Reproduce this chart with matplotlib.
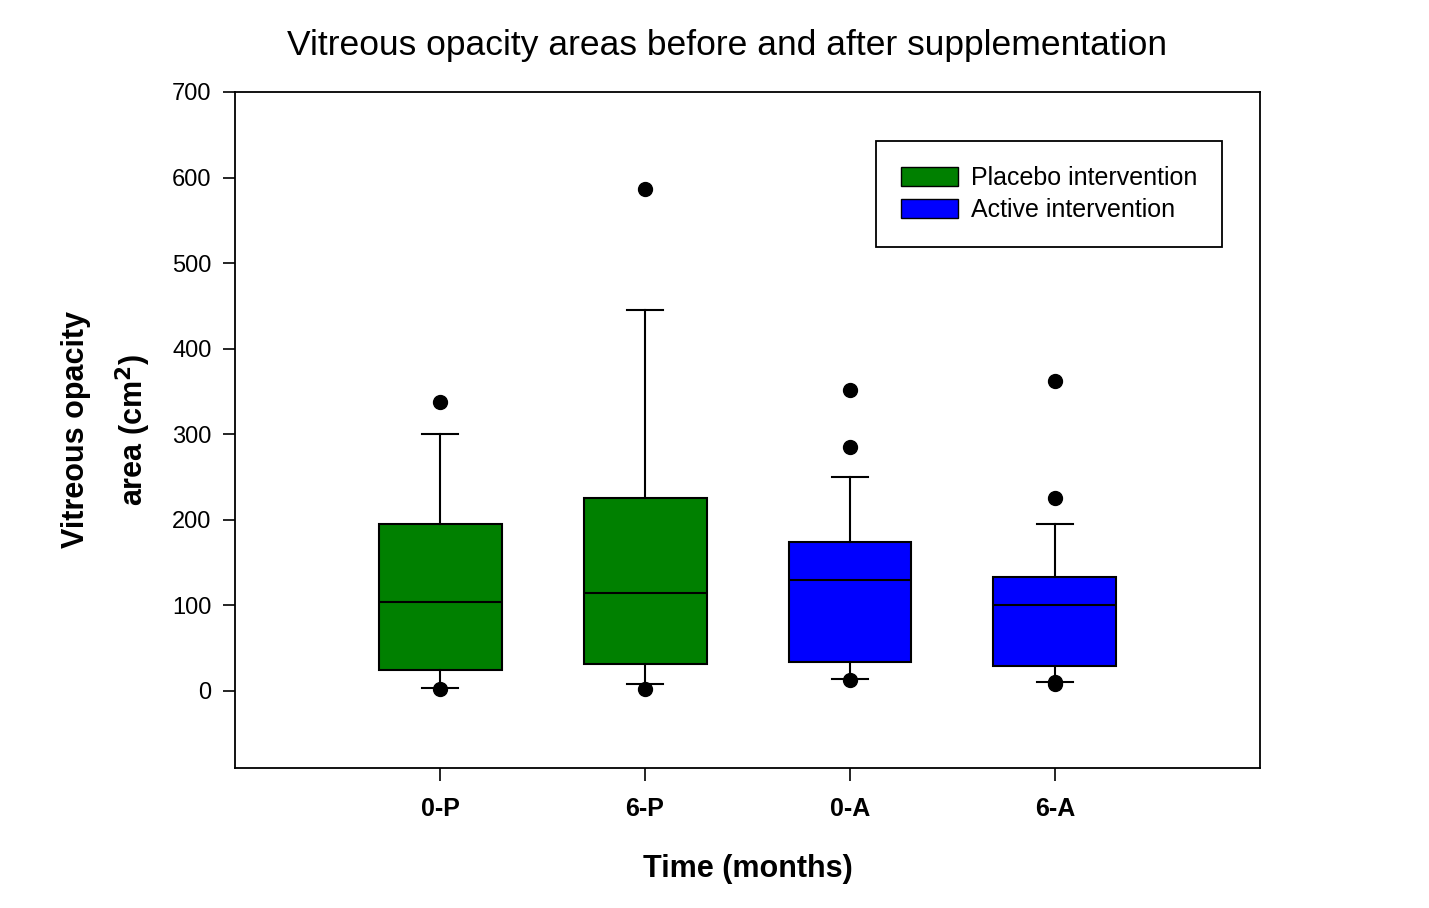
import numpy as np
import matplotlib.pyplot as plt
from matplotlib.patches import Patch

plt.rcParams['font.family'] = ['Liberation Sans', 'DejaVu Sans']

# box plot values
labels = ['0-P', '6-P', '0-A', '6-A']
q1 = [25, 32, 34, 29]
med = [104, 115, 130, 100]
q3 = [195, 226, 174, 133]
whis_lo = [3, 8, 14, 10]
whis_hi = [300, 445, 250, 195]
fliers = [[338, 2], [587, 2], [352, 285, 13], [362, 225, 11, 8]]
colors = ['#008000', '#008000', '#0000ff', '#0000ff']

fig = plt.figure(figsize=(14.29, 9.08), dpi=100)
ax = fig.add_axes([0.1645, 0.1542, 0.7172, 0.7445])

stats = []
for i in range(len(labels)):
    stats.append({'label': labels[i], 'q1': q1[i], 'med': med[i], 'q3': q3[i],
                  'whislo': whis_lo[i], 'whishi': whis_hi[i],
                  'fliers': np.array(fliers[i])})

pos = np.arange(1, len(labels) + 1)
bp = ax.bxp(stats, positions=pos, widths=0.6, patch_artist=True,
            boxprops=dict(edgecolor='black', linewidth=1.5),
            medianprops=dict(color='black', linewidth=1.5),
            whiskerprops=dict(color='black', linewidth=1.5),
            capprops=dict(color='black', linewidth=1.5),
            capwidths=0.18,
            flierprops=dict(marker='o', markerfacecolor='black',
                            markeredgecolor='black', markersize=10))
for b, c in zip(bp['boxes'], colors):
    b.set_facecolor(c)

ax.set_xlim(0, 5)
ax.set_ylim(-90, 700)
ax.set_yticks(range(0, 701, 100))
ax.set_xticks(pos)
ax.set_xticklabels(labels, fontsize=18, fontweight='bold')
ax.tick_params(axis='y', labelsize=17, length=9, width=1.2, direction='out', pad=8)
ax.tick_params(axis='x', length=9, width=1.2, direction='out', pad=12)
for s in ax.spines.values():
    s.set_linewidth(1.3)

ax.set_xlabel('Time (months)', fontsize=22, fontweight='bold', labelpad=24)
ax.set_ylabel('Vitreous opacity\narea (cm$^{\\mathbf{2}}$)', fontsize=22,
              fontweight='bold', labelpad=14, linespacing=1.75)
fig.suptitle('Vitreous opacity areas before and after supplementation',
             fontsize=25.5, x=0.509, y=0.968)

handles = [Patch(facecolor='#008000', edgecolor='black', label='Placebo intervention'),
           Patch(facecolor='#0000ff', edgecolor='black', label='Active intervention')]
leg = ax.legend(handles=handles, loc='upper right', bbox_to_anchor=(0.963, 0.927),
                borderaxespad=0, fontsize=18, fancybox=False, framealpha=1,
                edgecolor='black', handlelength=2.3, handleheight=0.8,
                borderpad=1.0, labelspacing=0.3, handletextpad=0.5)
leg.get_frame().set_linewidth(1.3)

fig.savefig('out.png', dpi=100)
